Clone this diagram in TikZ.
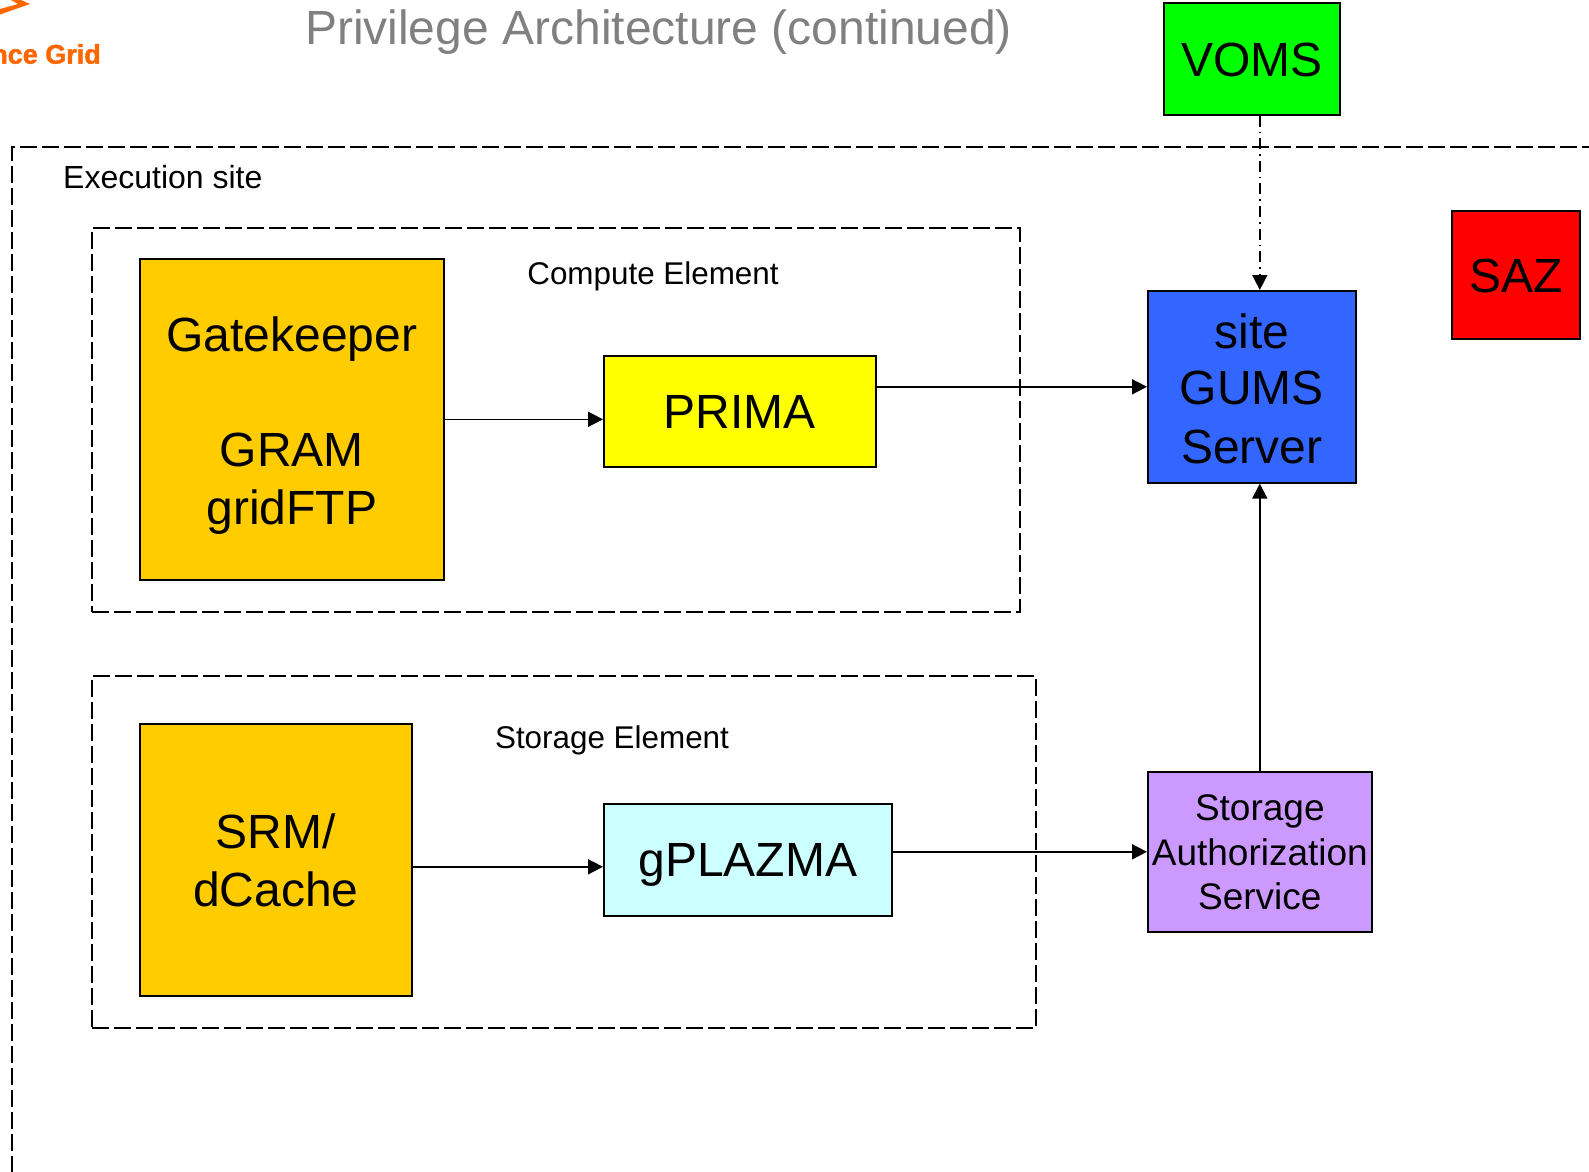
\documentclass[tikz,border=0pt]{standalone}
\usepackage{fontspec}
\setmainfont{Liberation Sans}
\newfontfamily\logofont[BoldFeatures={FakeBold=1.5}]{Liberation Sans}
\usetikzlibrary{arrows.meta}
\definecolor{vomscolor}{RGB}{0,255,0}
\definecolor{sazcolor}{RGB}{255,0,0}
\definecolor{primacolor}{RGB}{255,255,0}
\definecolor{gatecolor}{RGB}{255,204,0}
\definecolor{gumscolor}{RGB}{51,102,255}
\definecolor{plazmacolor}{RGB}{204,255,255}
\definecolor{sascolor}{RGB}{204,153,255}
\definecolor{logocolor}{RGB}{255,102,0}
\newcommand{\lowered}[2]{\raisebox{-#1}[\height][\depth]{#2}}
\begin{document}
\begin{tikzpicture}[x=1pt,y=-1pt,
    component/.style ={draw, line width=1.6pt, font=\fontsize{48}{59}\selectfont, align=center, anchor=north west, inner sep=0pt},
    region/.style ={draw, line width=1.6pt, dash pattern=on 17pt off 5pt, anchor=north west, inner sep=0pt},
    regionlabel/.style ={font=\fontsize{31.4}{38}\selectfont},
    link/.style ={line width=1.6pt, -{Triangle[length=15pt,width=15pt]}}]
   \useasboundingbox (0,0) rectangle (1589,1171);
   \node[font=\fontsize{48}{58}\selectfont, text=gray] (title) at (658.5,32)  {Privilege Architecture (continued)};
   \node[font=\logofont\bfseries\fontsize{27}{32}\selectfont, text=logocolor, anchor=east, inner sep=0pt] (logo) at (101,54)  {nce Grid};
   \fill[logocolor] (21,0) -- (30,4) -- (0,14.5) -- (0,9) -- (18,4) -- (11,0) -- cycle;
   \node[region, minimum width=1600pt, minimum height=1027pt] (execution) at (11,146)  {};
   \node[region, minimum width=928pt, minimum height=384pt] (compute) at (91,227)  {};
   \node[region, minimum width=944pt, minimum height=352pt] (storage) at (91,675)  {};
   \node[font=\fontsize{32}{38}\selectfont, anchor=west, inner sep=0pt] (executionlabel) at (63,177)  {Execution site};
   \node[regionlabel] (computelabel) at (653,276)  {Compute Element};
   \node[regionlabel] (storagelabel) at (612,740)  {Storage Element};
   \node[component, fill=vomscolor, minimum width=176pt, minimum height=112pt] (voms) at (1163,2)  {\lowered{1pt}{VOMS}};
   \node[component, fill=sazcolor, minimum width=128pt, minimum height=128pt] (saz) at (1451,210)  {\lowered{1pt}{SAZ}};
   \node[component, fill=gumscolor, minimum width=208pt, minimum height=192pt] (gums) at (1147,290)  {\lowered{4pt}{site}\\\lowered{1pt}{GUMS}\\\lowered{1pt}{Server}};
   \node[component, fill=gatecolor, minimum width=304pt, minimum height=321pt] (gate) at (139,258)  {\lowered{7pt}{Gatekeeper}\\[56pt]\lowered{7pt}{GRAM}\\\lowered{6pt}{gridFTP}};
   \node[component, fill=primacolor, minimum width=272pt, minimum height=111pt] (prima) at (603,355)  {\lowered{1pt}{PRIMA}};
   \node[component, fill=gatecolor, minimum width=272pt, minimum height=272pt] (srm) at (139,723)  {\lowered{1pt}{SRM/}\\dCache};
   \node[component, fill=plazmacolor, minimum width=288pt, minimum height=112pt] (plazma) at (603,803)  {\lowered{5pt}{gPLAZMA}};
   \node[component, fill=sascolor, minimum width=224pt, minimum height=160pt, font=\fontsize{37}{44.6}\selectfont] (sas) at (1147,771)  {\lowered{1pt}{Storage}\\\lowered{1pt}{Authorization}\\Service};
   \draw[link] (gate.east) -- (gate.east -| prima.west);
   \draw[link] (prima.east |- gums.west) -- (gums.west);
   \draw[link] ([yshift=-7pt]srm.east) -- ([yshift=-7pt]srm.east -| plazma.west);
   \draw[link] (plazma.east |- sas.west) -- (sas.west);
   \draw[link] (sas.north) -- (sas.north |- gums.south);
   \draw[link, dash pattern=on 11pt off 5pt on 1.6pt off 5pt] (sas.north |- voms.south) -- (sas.north |- gums.north);
 \end{tikzpicture}
\end{document}
